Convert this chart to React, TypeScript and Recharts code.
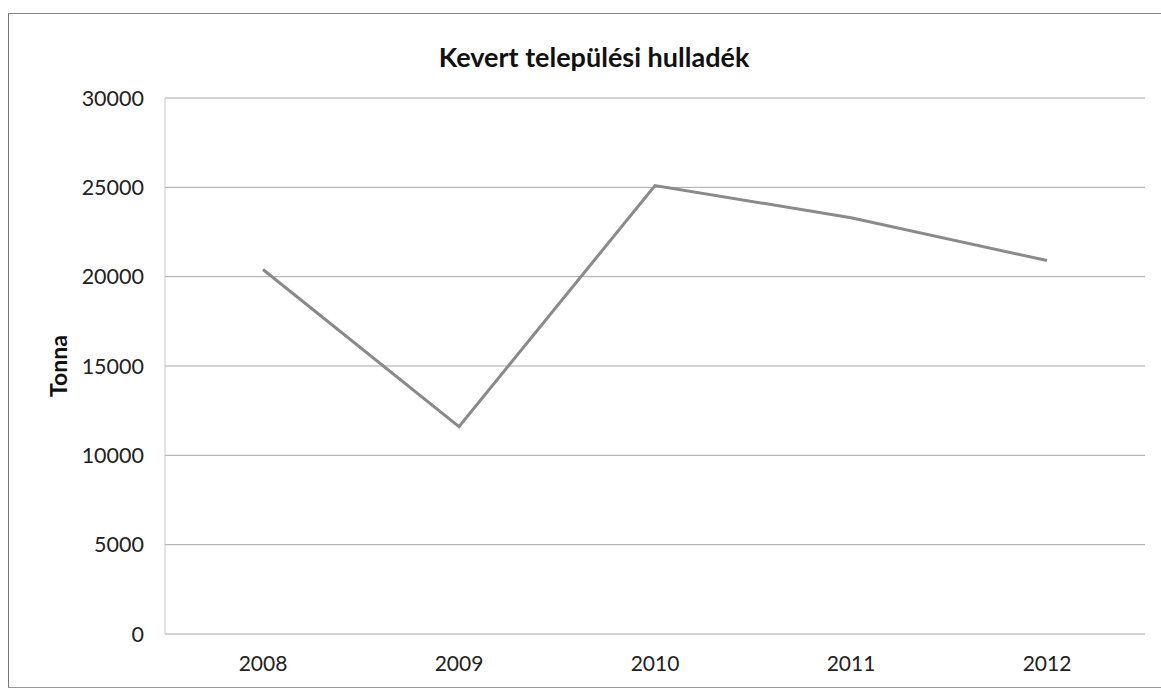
import React from "react";
import { LineChart, Line, XAxis, YAxis, CartesianGrid } from "recharts";

const years = ["2008", "2009", "2010", "2011", "2012"];
const tonnes = [20400, 11600, 25100, 23300, 20900];
const yTicks = [0, 5000, 10000, 15000, 20000, 25000, 30000];
const chartTitle = "Kevert települési hulladék";
const yAxisTitle = "Tonna";

const data = years.map((y, i) => ({ year: y, value: tonnes[i] }));

const FONT = "Lato, 'Open Sans', sans-serif";

export default function App() {
  return (
    <div style={{ position: "absolute", left: 0, top: 0, width: 1161, height: 691, background: "#fff", fontFamily: FONT }}>
      <div
        style={{
          position: "absolute",
          left: 8,
          top: 13,
          width: 1160,
          height: 675,
          borderLeft: "1.5px solid #777",
          borderTop: "1.5px solid #888",
          borderBottom: "1.5px solid #999",
          boxSizing: "border-box",
        }}
      />
      <LineChart
        width={1161}
        height={691}
        data={data}
        margin={{ top: 98, right: 16, left: 100, bottom: 27 }}
        style={{ position: "absolute", left: 0, top: 0 }}
      >
        <CartesianGrid vertical={false} stroke="#a8a8a8" strokeWidth={1} />
        <XAxis
          dataKey="year"
          height={30}
          padding={{ left: 98, right: 98 }}
          axisLine={false}
          tickLine={false}
          tickSize={0}
          tickMargin={22}
          tick={{ fill: "#222", fontSize: 21, fontFamily: FONT }}
        />
        <YAxis
          width={65}
          domain={[0, 30000]}
          ticks={yTicks}
          axisLine={{ stroke: "#c8c8c8" }}
          tickLine={false}
          tickSize={0}
          tickMargin={21}
          tick={{ fill: "#222", fontSize: 21.5, fontFamily: FONT }}
        />
        <Line
          type="linear"
          dataKey="value"
          stroke="#8a8a8a"
          strokeWidth={3}
          dot={false}
          isAnimationActive={false}
        />
      </LineChart>
      <div
        style={{
          position: "absolute",
          left: 0,
          width: 1188,
          top: 39,
          textAlign: "center",
          fontSize: 27,
          fontWeight: 700,
          color: "#111",
          lineHeight: "36px",
        }}
      >
        {chartTitle}
      </div>
      <div
        style={{
          position: "absolute",
          left: 58,
          top: 366,
          transform: "translate(-50%, -50%) rotate(-90deg)",
          fontSize: 23,
          fontWeight: 700,
          color: "#111",
          whiteSpace: "nowrap",
        }}
      >
        {yAxisTitle}
      </div>
    </div>
  );
}
